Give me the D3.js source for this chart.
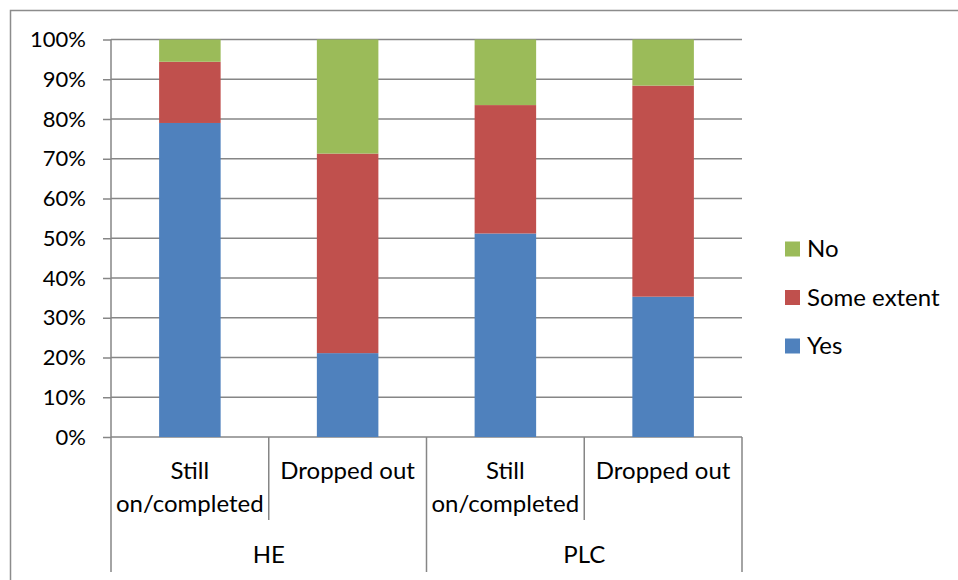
<!DOCTYPE html>
<html>
<head>
<meta charset="utf-8">
<script src="https://cdn.jsdelivr.net/npm/d3@7"></script>
<style>
  html, body { margin: 0; padding: 0; background: #fff; }
  svg { display: block; }
  text { font-family: Lato, "Open Sans", sans-serif; fill: #000; }
</style>
</head>
<body>
<svg id="chart" width="958" height="580"></svg>
<script>
// ---- data ----
const categoryLines = [["Still", "on/completed"], ["Dropped out"], ["Still", "on/completed"], ["Dropped out"]];
const groups = ["HE", "PLC"];
const seriesNames = ["Yes", "Some extent", "No"];
const yesValues = [79.0, 21.1, 51.2, 35.3];
const someExtentValues = [15.4, 50.2, 32.3, 53.1];
const noValues = [5.6, 28.7, 16.5, 11.6];
const yTicks = [0, 10, 20, 30, 40, 50, 60, 70, 80, 90, 100];
const colors = { "Yes": "#4F81BD", "Some extent": "#C0504D", "No": "#9BBB59" };

// ---- layout ----
const svg = d3.select("#chart");
const plotLeft = 111, plotRight = 742, plotTop = 39.5, plotBottom = 437;

// outer chart border
svg.append("rect")
  .attr("x", 10.5).attr("y", 10.5)
  .attr("width", 980).attr("height", 600)
  .attr("fill", "none").attr("stroke", "#8c8c8c").attr("stroke-width", 1.5);

const x = d3.scaleBand().domain(d3.range(categoryLines.length)).range([plotLeft, plotRight]).padding(0);
const y = d3.scaleLinear().domain([0, 100]).range([plotBottom, plotTop]);

// gridlines
svg.append("g").selectAll("line").data(yTicks).join("line")
  .attr("x1", plotLeft).attr("x2", plotRight)
  .attr("y1", d => y(d)).attr("y2", d => y(d))
  .attr("stroke", "#868686").attr("stroke-width", 1.5);

// stacked bars
const rows = categoryLines.map((c, i) => ({ i, "Yes": yesValues[i], "Some extent": someExtentValues[i], "No": noValues[i] }));
const stack = d3.stack().keys(seriesNames)(rows);
const barW = x.bandwidth() * 0.39;
svg.append("g").selectAll("g").data(stack).join("g")
  .attr("fill", d => colors[d.key])
  .selectAll("rect").data(d => d).join("rect")
  .attr("x", d => x(d.data.i) + (x.bandwidth() - barW) / 2)
  .attr("width", barW)
  .attr("y", d => y(d[1]))
  .attr("height", d => y(d[0]) - y(d[1]));

// y axis
const yAxis = d3.axisLeft(y).tickValues(yTicks).tickFormat(d => d + "%").tickSize(8).tickPadding(17);
const ga = svg.append("g").attr("transform", `translate(${plotLeft},0)`).call(yAxis);
ga.select(".domain").remove();
ga.selectAll(".tick line").attr("stroke", "#868686").attr("stroke-width", 1.5);
ga.selectAll(".tick text").attr("font-size", 22).attr("font-family", "Lato, 'Open Sans', sans-serif").attr("fill", "#000");

// axis line (extends into category area)
svg.append("line").attr("x1", plotLeft).attr("x2", plotLeft).attr("y1", plotTop).attr("y2", 572)
  .attr("stroke", "#868686").attr("stroke-width", 1.5);

// category dividers
const g = svg.append("g");
d3.range(1, categoryLines.length + 1).forEach(k => {
  const xx = k === categoryLines.length ? plotRight : x(k);
  const outer = (k % 2 === 0);
  g.append("line").attr("x1", xx).attr("x2", xx).attr("y1", plotBottom).attr("y2", outer ? 572 : 520)
    .attr("stroke", "#868686").attr("stroke-width", 1.5);
});

// category labels
categoryLines.forEach((lines, i) => {
  const cx = x(i) + x.bandwidth() / 2;
  lines.forEach((ln, j) => {
    svg.append("text").attr("x", cx).attr("y", 479 + j * 33)
      .attr("text-anchor", "middle").attr("font-size", 24).text(ln);
  });
});

// group labels
groups.forEach((gname, gi) => {
  const cx = x(gi * 2) + x.bandwidth();
  svg.append("text").attr("x", cx).attr("y", 563)
    .attr("text-anchor", "middle").attr("font-size", 24).text(gname);
});

// legend
const legendItems = ["No", "Some extent", "Yes"];
const leg = svg.append("g");
legendItems.forEach((name, k) => {
  const cy = 249 + k * 48.5;
  leg.append("rect").attr("x", 785).attr("y", cy - 7.5).attr("width", 15).attr("height", 15).attr("fill", colors[name]);
  leg.append("text").attr("x", 807).attr("y", cy).attr("dy", "0.35em").attr("font-size", 24).text(name);
});
</script>
</body>
</html>
